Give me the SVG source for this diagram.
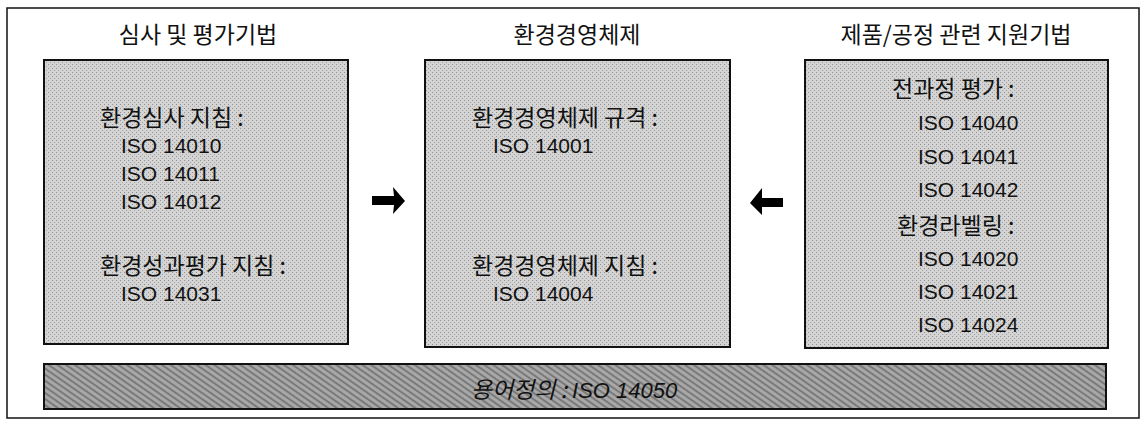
<svg xmlns="http://www.w3.org/2000/svg" width="1147" height="424" viewBox="0 0 1147 424">
<style>
.ttl{font-family:"Noto Sans CJK KR","Liberation Sans",sans-serif;font-size:23px;fill:#111;text-anchor:middle}
.t{font-family:"Noto Sans CJK KR","Liberation Sans",sans-serif;font-size:23px;fill:#111}
.iso{font-family:"Liberation Sans",Arial,sans-serif;font-size:21px;fill:#111}
.box{fill:url(#dots);stroke:#111;stroke-width:2}
.band{fill:url(#hatch);stroke:#111;stroke-width:2}
.arr{fill:#000}
</style>
<defs>
<pattern id="dots" width="4" height="4" patternUnits="userSpaceOnUse">
<rect width="4" height="4" fill="#d4d4d4"/>
<rect width="1" height="1" fill="#909090"/>
<rect x="2" y="2" width="1" height="1" fill="#a0a0a0"/>
</pattern>
<pattern id="hatch" width="5" height="5" patternUnits="userSpaceOnUse" patternTransform="rotate(35)">
<rect width="5" height="5" fill="#a8a8a8"/>
<rect width="5" height="2" fill="#7a7a7a"/>
</pattern>
</defs>
<rect x="7" y="8" width="1132" height="410" fill="#fff" stroke="#111" stroke-width="1.5"/>
<g id="node-audit">
<text class="ttl" x="198" y="43">심사 및 평가기법</text>
<rect class="box" x="44" y="60" width="304" height="284"/>
<text class="t" x="100" y="126">환경심사 지침 :</text>
<text class="iso" x="121" y="153">ISO 14010</text>
<text class="iso" x="121" y="181">ISO 14011</text>
<text class="iso" x="121" y="209">ISO 14012</text>
<text class="t" x="100" y="274">환경성과평가 지침 :</text>
<text class="iso" x="121" y="301">ISO 14031</text>
</g>
<g id="node-ems">
<text class="ttl" x="577" y="43">환경경영체제</text>
<rect class="box" x="425" y="60" width="305" height="287"/>
<text class="t" x="472" y="126">환경경영체제 규격 :</text>
<text class="iso" x="493" y="153">ISO 14001</text>
<text class="t" x="472" y="274">환경경영체제 지침 :</text>
<text class="iso" x="493" y="301">ISO 14004</text>
</g>
<g id="node-product">
<text class="ttl" x="956" y="43">제품/공정 관련 지원기법</text>
<rect class="box" x="805" y="60" width="303" height="288"/>
<text class="t" x="892" y="97">전과정 평가 :</text>
<text class="iso" x="918" y="130">ISO 14040</text>
<text class="iso" x="918" y="164">ISO 14041</text>
<text class="iso" x="918" y="197">ISO 14042</text>
<text class="t" x="897" y="234">환경라벨링 :</text>
<text class="iso" x="918" y="266">ISO 14020</text>
<text class="iso" x="918" y="299">ISO 14021</text>
<text class="iso" x="918" y="332">ISO 14024</text>
</g>
<g id="node-terms">
<rect class="band" x="44" y="364" width="1062" height="45"/>
<text class="t" x="574" y="398" text-anchor="middle" font-style="italic">용어정의 : <tspan font-family="Liberation Sans,Arial,sans-serif" font-size="22">ISO 14050</tspan></text>
</g>
<g id="connectors">
<path class="arr" d="M372,196 L394,196 L393,187 L405,201 L393,214 L394,205 L372,205 Z"/>
<path class="arr" d="M783,198 L762,198 L762,188 L750,203 L762,215 L762,207 L783,207 Z"/>
</g>
</svg>
